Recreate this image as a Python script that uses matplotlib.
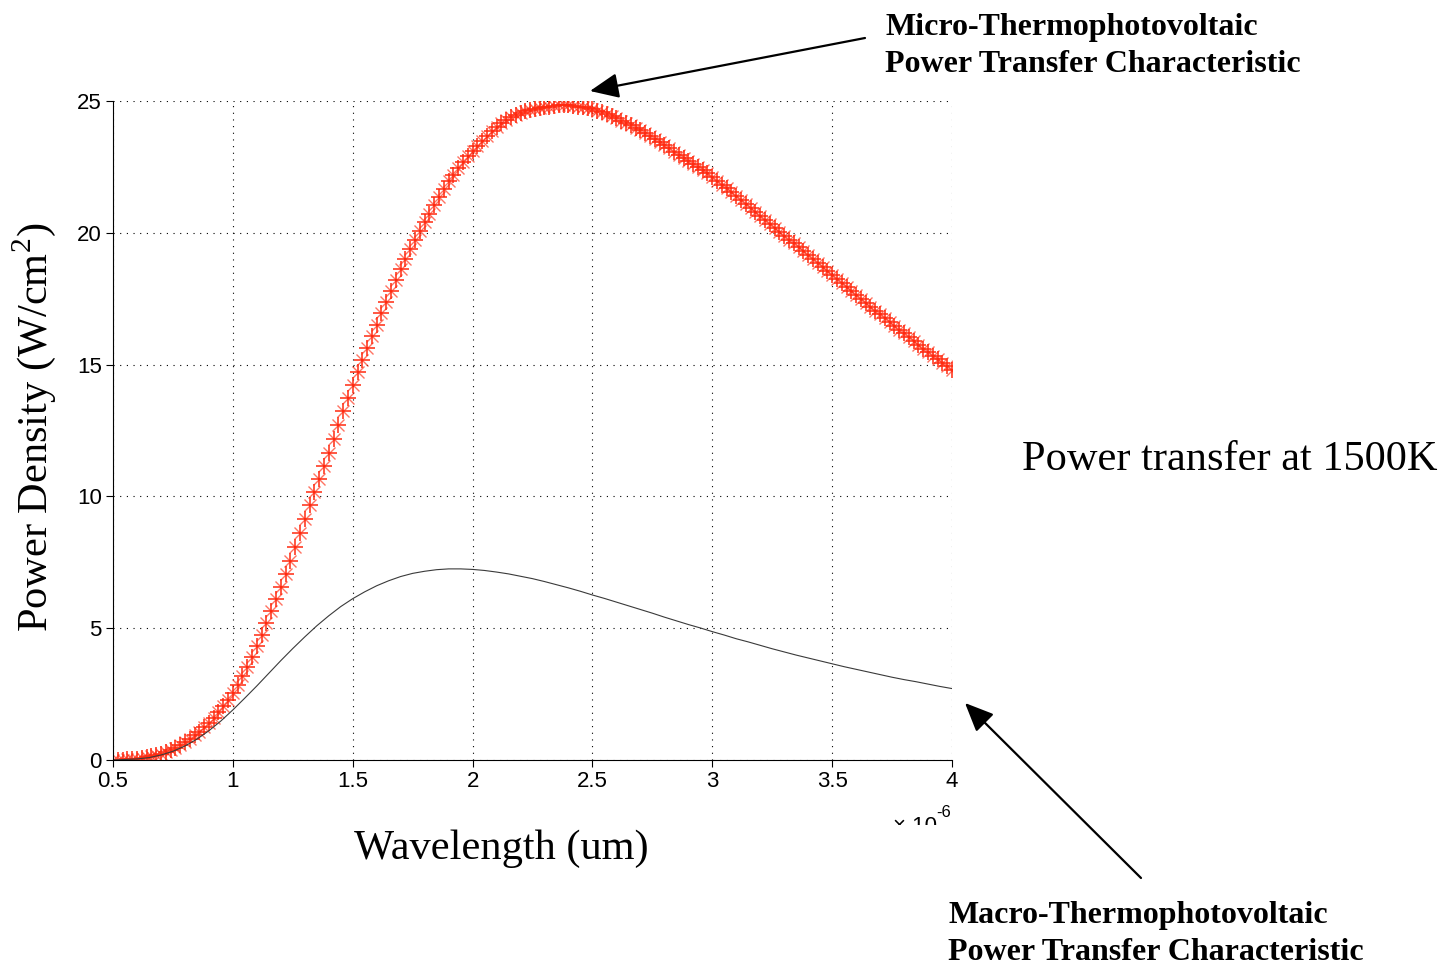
import numpy as np
import matplotlib
matplotlib.use('Agg')
import matplotlib.pyplot as plt
from matplotlib.patches import Rectangle

plt.rcParams['mathtext.fontset'] = 'custom'
plt.rcParams['mathtext.rm'] = 'Liberation Serif'

SERIF = 'Liberation Serif'
SANS = 'Liberation Sans'

# micro-TPV curve, sampled every 0.02 um from 0.5 to 4.0 um
micro_start, micro_step = 0.5, 0.02
micro_power = [
    0.01, 0.01, 0.01, 0.02, 0.03, 0.05, 0.07, 0.10, 0.14, 0.18,
    0.24, 0.30, 0.38, 0.47, 0.57, 0.68, 0.80, 0.93, 1.08, 1.24,
    1.42, 1.61, 1.82, 2.04, 2.28, 2.53, 2.83, 3.17, 3.53, 3.92,
    4.33, 4.75, 5.19, 5.64, 6.09, 6.56, 7.05, 7.56, 8.08, 8.61,
    9.16, 9.67, 10.17, 10.67, 11.16, 11.65, 12.18, 12.71, 13.23, 13.74,
    14.24, 14.72, 15.19, 15.64, 16.08, 16.50, 16.94, 17.37, 17.79, 18.21,
    18.62, 19.00, 19.37, 19.73, 20.07, 20.40, 20.73, 21.05, 21.36, 21.66,
    21.95, 22.21, 22.45, 22.68, 22.90, 23.10, 23.30, 23.49, 23.68, 23.86,
    24.03, 24.17, 24.29, 24.39, 24.48, 24.55, 24.61, 24.66, 24.70, 24.73,
    24.76, 24.79, 24.81, 24.83, 24.84, 24.84, 24.82, 24.79, 24.76, 24.72,
    24.68, 24.63, 24.57, 24.50, 24.42, 24.34, 24.26, 24.17, 24.08, 23.99,
    23.89, 23.78, 23.67, 23.55, 23.44, 23.32, 23.20, 23.08, 22.96, 22.84,
    22.72, 22.60, 22.48, 22.37, 22.25, 22.13, 21.98, 21.83, 21.69, 21.54,
    21.39, 21.24, 21.10, 20.95, 20.80, 20.64, 20.49, 20.34, 20.19, 20.04,
    19.89, 19.74, 19.60, 19.45, 19.31, 19.16, 19.01, 18.86, 18.71, 18.55,
    18.40, 18.25, 18.10, 17.94, 17.79, 17.63, 17.49, 17.34, 17.20, 17.05,
    16.91, 16.77, 16.62, 16.48, 16.33, 16.19, 16.05, 15.90, 15.76, 15.61,
    15.47, 15.34, 15.20, 15.07, 14.93, 14.80,
]

# macro-TPV curve, sampled every 0.05 um from 0.5 to 4.0 um
macro_start, macro_step = 0.5, 0.05
macro_power = [
    0.00, 0.02, 0.04, 0.09, 0.19, 0.33, 0.53, 0.79, 1.11, 1.48,
    1.90, 2.35, 2.81, 3.29, 3.77, 4.23, 4.67, 5.09, 5.47, 5.82,
    6.12, 6.38, 6.61, 6.80, 6.96, 7.08, 7.16, 7.22, 7.25, 7.25,
    7.23, 7.19, 7.13, 7.06, 6.97, 6.88, 6.77, 6.65, 6.53, 6.40,
    6.26, 6.13, 5.99, 5.85, 5.71, 5.57, 5.42, 5.28, 5.14, 5.01,
    4.87, 4.74, 4.60, 4.48, 4.35, 4.22, 4.10, 3.98, 3.87, 3.76,
    3.65, 3.54, 3.44, 3.34, 3.24, 3.14, 3.05, 2.97, 2.88, 2.79,
    2.71,
]

x_ticks = [0.5, 1, 1.5, 2, 2.5, 3, 3.5, 4]
x_tick_labels = ['0.5', '1', '1.5', '2', '2.5', '3', '3.5', '4']
y_ticks = [0, 5, 10, 15, 20, 25]

micro_wl = micro_start + micro_step * np.arange(len(micro_power))
macro_wl = macro_start + macro_step * np.arange(len(macro_power))

W, H = 1450, 965
fig = plt.figure(figsize=(W / 100, H / 100), dpi=100)
ax = fig.add_axes([113 / W, (H - 760) / H, 839 / W, 659 / H])


def fpos(px, py):
    # pixel position measured from the top-left corner -> figure fraction
    return px / W, 1 - py / H


red = '#ff2a10'
ax.plot(micro_wl, micro_power, ls='none', marker='+', ms=11, mew=1.1, color=red)
ax.plot(micro_wl, micro_power, ls='none', marker='x', ms=8.5, mew=1.0, color=red, alpha=0.65)
ax.plot(macro_wl, macro_power, color='#3a3a3a', lw=0.8)

ax.set_xlim(0.5, 4)
ax.set_ylim(0, 25)
ax.set_xticks(x_ticks)
ax.set_xticklabels(x_tick_labels)
ax.set_yticks(y_ticks)
ax.grid(True, color='black', ls=(0, (1, 5)), lw=0.8)
ax.spines['top'].set_visible(False)
ax.spines['right'].set_visible(False)
ax.tick_params(direction='out', length=5, width=0.8, labelsize=16, pad=3)
for lab in ax.get_xticklabels() + ax.get_yticklabels():
    lab.set_family(SANS)

# exponent of the x axis, only its top edge shows in the original
fig.text(*fpos(951, 805), '-6', family=SANS, fontsize=12, ha='right', va='top')
fig.text(*fpos(937, 816), '× 10', family=SANS, fontsize=16, ha='right', va='top')
fig.patches.append(Rectangle(fpos(870, 838), 100 / W, 13 / H, transform=fig.transFigure,
                             facecolor='white', edgecolor='none', zorder=10))

fig.text(*fpos(501, 849), 'Wavelength (um)', family=SERIF, fontsize=30.5, ha='center', va='center')
fig.text(*fpos(34, 427), 'Power Density (W/cm$^{2}$)', family=SERIF, fontsize=30.5,
         ha='center', va='center', rotation=90)
fig.text(*fpos(1022, 460), 'Power transfer at 1500K', family=SERIF, fontsize=30.5,
         ha='left', va='center')

fig.text(*fpos(885, 46), 'Micro-Thermophotovoltaic\nPower Transfer Characteristic', family=SERIF,
         fontsize=23, fontweight='bold', ha='left', va='center', linespacing=1.39)
fig.text(*fpos(948, 934), 'Macro-Thermophotovoltaic\nPower Transfer Characteristic', family=SERIF,
         fontsize=23, fontweight='bold', ha='left', va='center', linespacing=1.32)

arrow = dict(arrowstyle='-|>,head_length=0.8,head_width=0.35', color='black', lw=1.6,
             mutation_scale=22, shrinkA=0, shrinkB=0)
ax.annotate('', xy=fpos(590, 91), xycoords='figure fraction',
            xytext=fpos(865, 38), textcoords='figure fraction', arrowprops=arrow)
ax.annotate('', xy=fpos(965, 703), xycoords='figure fraction',
            xytext=fpos(1141, 878), textcoords='figure fraction', arrowprops=arrow)

fig.savefig('out.png', dpi=100)
